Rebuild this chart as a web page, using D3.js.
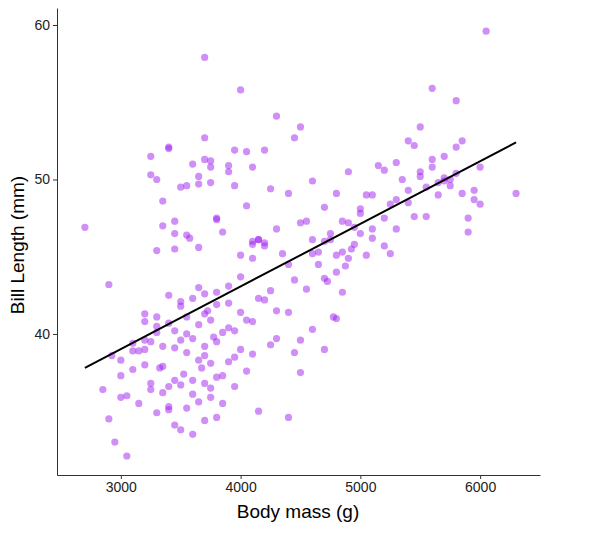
<!DOCTYPE html>
<html><head><meta charset="utf-8">
<script src="https://cdn.jsdelivr.net/npm/d3@7"></script>
<style>body{margin:0;background:#fff}</style></head>
<body><svg id="c" width="592" height="535"></svg>
<script>
const bodyMass = [2700,2850,2900,2900,2925,2950,3000,3050,3050,3100,3150,3200,3200,3250,3250,3300,3300,3325,3350,3350,3400,3400,3400,3450,3450,3450,3500,3500,3500,3550,3550,3550,3600,3600,3600,3650,3650,3650,3700,3700,3700,3700,3750,3750,3750,3800,3800,3800,3850,3850,3900,3900,3950,3950,4000,4000,4050,4100,4150,4200,4250,4300,4400,4450,4500,4600,4700,4775,
3000,3150,3200,3250,3300,3350,3400,3450,3500,3525,3550,3600,3650,3675,3700,3725,3750,3775,3800,3850,3900,3950,4000,4050,4100,4150,4300,4400,4500,4800,
3100,3200,3250,3300,3350,3400,3500,3575,3650,3700,3750,3800,3900,3950,4050,4100,4200,3300,3450,3550,
4000,4100,4150,4200,4250,4300,4350,4400,4450,4500,4550,4600,4650,4700,4725,4750,4800,4850,4875,4900,4925,4950,5000,5050,5100,5150,5200,5250,5300,5350,5400,5450,5500,5550,5600,5650,5700,5750,5800,5850,5900,5950,6000,6050,6300,
4400,4500,4550,4600,4650,4700,4750,4800,4850,4900,4950,5000,5050,5100,5200,5250,5300,5400,5450,5500,5550,5600,5650,5700,5750,5800,5850,5950,6000,
4300,4450,4600,4700,4800,4850,4900,5000,5100,5200,5300,5400,5500,5600,5700,5800,5900,
3000,3100,3200,3300,3400,3500,3600,3700,3800,3900,4000,4100,4200,3700,3450,3650,3850,4050,4250,
3250,3350,3450,3600,3650,3700,3750,3900,3950,4100,4150,3400,3550,3750,3800];
const billLength = [46.9,36.4,43.2,34.5,38.6,33.0,37.3,32.1,36.0,37.7,35.5,40.8,38.0,36.4,39.5,34.9,41.1,37.8,36.2,39.2,35.1,36.6,42.5,34.1,37.0,40.2,33.8,36.7,39.6,35.2,38.8,41.1,33.5,37.0,39.7,35.6,38.3,40.6,34.4,36.8,39.2,41.3,35.9,38.1,40.9,34.6,37.2,39.5,35.5,40.1,38.2,42.0,36.6,40.2,39.0,41.4,37.6,40.8,35.0,42.2,39.3,41.5,34.6,38.8,37.5,40.3,39.0,41.1,
35.9,38.9,39.6,36.8,40.5,37.9,35.3,39.1,42.1,37.4,40.0,36.1,43.0,37.8,38.6,41.5,36.5,39.8,42.7,37.3,40.4,38.5,43.7,40.9,38.7,42.3,39.7,41.4,39.6,41.0,
38.9,41.3,51.5,50.0,48.6,52.1,49.5,46.2,50.2,51.3,49.8,47.5,50.9,49.6,51.8,45.8,45.9,45.4,45.5,46.4,
45.1,44.9,46.1,45.7,42.8,46.8,45.2,44.5,43.5,47.2,42.9,46.1,45.3,48.2,43.4,46.5,49.1,47.3,44.4,50.5,45.5,46.9,47.8,49.0,46.2,50.9,45.7,48.4,46.8,50.0,48.5,47.6,50.2,49.5,51.3,49.0,50.1,49.6,50.4,49.1,46.6,48.7,50.8,59.6,49.1,
49.1,53.4,47.3,45.2,44.5,43.6,46.1,44.0,45.3,47.2,45.8,48.1,45.1,46.8,47.5,45.2,48.7,49.3,52.2,50.5,47.6,50.8,49.8,51.5,50.0,52.1,52.5,49.3,48.4,
54.1,52.7,49.9,46.0,45.1,42.7,44.9,46.5,49.0,50.6,51.1,52.5,53.4,55.9,49.9,55.1,47.5,
38.3,39.4,39.0,40.1,40.7,41.8,42.3,42.6,41.9,43.1,55.8,50.8,51.9,57.9,47.3,45.6,46.6,48.3,49.4,
50.3,47.0,46.5,51.0,49.7,52.7,51.2,50.5,51.9,46.0,46.1,52.0,49.6,50.8,47.4];
const xTicks=[3000,4000,5000,6000], yTicks=[40,50,60];
const fit=[[2700,37.8],[6300,52.4]];

const svg=d3.select("#c");
const x=d3.scaleLinear().domain([2467,6500]).range([57,540]);
const y=d3.scaleLinear().domain([30.87,61.1]).range([475,8]);
const n=Math.min(bodyMass.length,billLength.length);
svg.append("g").selectAll("circle").data(d3.range(n)).join("circle")
 .attr("cx",i=>x(bodyMass[i])).attr("cy",i=>y(billLength[i])).attr("r",3.6)
 .attr("fill","#a020f0").attr("fill-opacity",0.5);
svg.append("line").attr("x1",x(fit[0][0])).attr("y1",y(fit[0][1])).attr("x2",x(fit[1][0])).attr("y2",y(fit[1][1]))
 .attr("stroke","#000").attr("stroke-width",2);
const xa=svg.append("g").attr("transform","translate(0,475)").call(d3.axisBottom(x).tickValues(xTicks).tickFormat(d3.format("d")).tickSize(4).tickSizeOuter(0));
const ya=svg.append("g").attr("transform","translate(57,0)").call(d3.axisLeft(y).tickValues(yTicks).tickFormat(d3.format("d")).tickSize(4).tickSizeOuter(0));
[xa,ya].forEach(a=>{a.selectAll("text").attr("font-family","Liberation Sans, Arial").attr("font-size",14).attr("fill","#222");a.select(".domain").attr("stroke","#333");a.selectAll("line").attr("stroke","#333");});
svg.append("text").attr("x",298).attr("y",518).attr("text-anchor","middle").attr("font-family","Liberation Sans, Arial").attr("font-size",19).text("Body mass (g)");
svg.append("text").attr("transform","translate(24,245) rotate(-90)").attr("text-anchor","middle").attr("font-family","Liberation Sans, Arial").attr("font-size",19).text("Bill Length (mm)");
</script></body></html>
